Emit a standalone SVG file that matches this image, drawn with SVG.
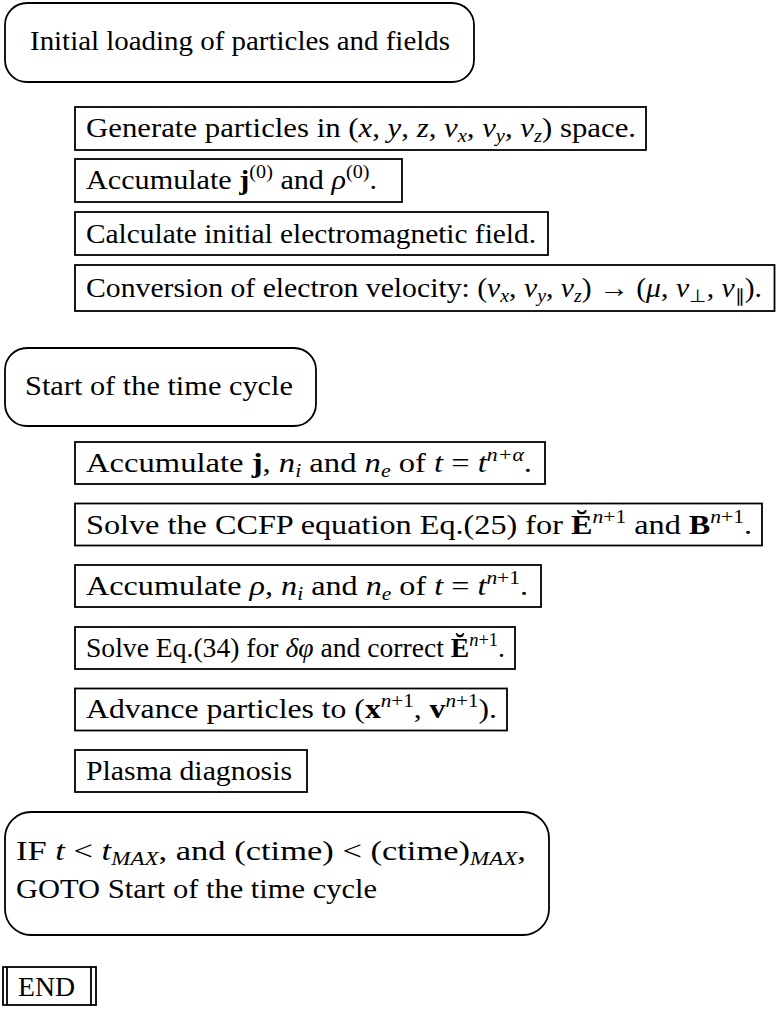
<svg xmlns="http://www.w3.org/2000/svg" width="776" height="1009" viewBox="0 0 776 1009">
<style>
.b{fill:none;stroke:#000;stroke-width:1.8}
.t{font-family:"Liberation Serif","Times New Roman",serif;font-size:27px;fill:#000}
.i{font-style:italic}
.bf{font-weight:bold}
.s{font-size:18px}
</style>
<rect width="776" height="1009" fill="#fff"/>
<g id="n-init">
<rect class="b" x="5" y="3" width="469" height="79" rx="22"/>
<text class="t" x="30" y="50" textLength="420" lengthAdjust="spacingAndGlyphs">Initial loading of particles and fields</text>
</g>
<g id="n-generate">
<rect class="b" x="75" y="107" width="571" height="43"/>
<text class="t" x="86" y="137" textLength="550" lengthAdjust="spacingAndGlyphs">Generate particles in (<tspan class="i">x</tspan>, <tspan class="i">y</tspan>, <tspan class="i">z</tspan>, <tspan class="i">v</tspan><tspan class="i s" dy="5">x</tspan><tspan dy="-5">, </tspan><tspan class="i">v</tspan><tspan class="i s" dy="5">y</tspan><tspan dy="-5">, </tspan><tspan class="i">v</tspan><tspan class="i s" dy="5">z</tspan><tspan dy="-5">) space.</tspan></text>
</g>
<g id="n-acc0">
<rect class="b" x="75" y="159" width="327" height="43"/>
<text class="t" x="86" y="189" textLength="291" lengthAdjust="spacingAndGlyphs">Accumulate <tspan class="bf">j</tspan><tspan class="s" dy="-11">(0)</tspan><tspan dy="11"> and </tspan><tspan class="i">ρ</tspan><tspan class="s" dy="-11">(0)</tspan><tspan dy="11">.</tspan></text>
</g>
<g id="n-calc">
<rect class="b" x="75" y="212" width="473" height="43"/>
<text class="t" x="86" y="243" textLength="450" lengthAdjust="spacingAndGlyphs">Calculate initial electromagnetic field.</text>
</g>
<g id="n-conv">
<rect class="b" x="75" y="265" width="699.5" height="46"/>
<text class="t" x="86" y="297" textLength="676" lengthAdjust="spacingAndGlyphs">Conversion of electron velocity: (<tspan class="i">v</tspan><tspan class="i s" dy="5">x</tspan><tspan dy="-5">, </tspan><tspan class="i">v</tspan><tspan class="i s" dy="5">y</tspan><tspan dy="-5">, </tspan><tspan class="i">v</tspan><tspan class="i s" dy="5">z</tspan><tspan dy="-5">) → (</tspan><tspan class="i">μ</tspan>, <tspan class="i">v</tspan><tspan class="s" dy="5">⊥</tspan><tspan dy="-5">, </tspan><tspan class="i">v</tspan><tspan class="s" dy="5">∥</tspan><tspan dy="-5">).</tspan></text>
</g>
<g id="n-start">
<rect class="b" x="5" y="348" width="311" height="78" rx="22"/>
<text class="t" x="25" y="395" textLength="268" lengthAdjust="spacingAndGlyphs">Start of the time cycle</text>
</g>
<g id="n-accj">
<rect class="b" x="75" y="442" width="470" height="42"/>
<text class="t" x="86" y="472" textLength="446" lengthAdjust="spacingAndGlyphs">Accumulate <tspan class="bf">j</tspan>, <tspan class="i">n</tspan><tspan class="i s" dy="5">i</tspan><tspan dy="-5"> and </tspan><tspan class="i">n</tspan><tspan class="i s" dy="5">e</tspan><tspan dy="-5"> of </tspan><tspan class="i">t</tspan> = <tspan class="i">t</tspan><tspan class="i s" dy="-11">n+α</tspan><tspan dy="11">.</tspan></text>
</g>
<g id="n-ccfp">
<rect class="b" x="75" y="503.5" width="687" height="42"/>
<text class="t" x="86" y="534" textLength="666" lengthAdjust="spacingAndGlyphs">Solve the CCFP equation Eq.(25) for <tspan class="bf">Ĕ</tspan><tspan class="i s" dy="-11">n</tspan><tspan class="s">+1</tspan><tspan dy="11"> and </tspan><tspan class="bf">B</tspan><tspan class="i s" dy="-11">n</tspan><tspan class="s">+1</tspan><tspan dy="11">.</tspan></text>
</g>
<g id="n-accrho">
<rect class="b" x="75" y="565" width="466" height="42"/>
<text class="t" x="86" y="595" textLength="442" lengthAdjust="spacingAndGlyphs">Accumulate <tspan class="i">ρ</tspan>, <tspan class="i">n</tspan><tspan class="i s" dy="5">i</tspan><tspan dy="-5"> and </tspan><tspan class="i">n</tspan><tspan class="i s" dy="5">e</tspan><tspan dy="-5"> of </tspan><tspan class="i">t</tspan> = <tspan class="i">t</tspan><tspan class="i s" dy="-11">n</tspan><tspan class="s">+1</tspan><tspan dy="11">.</tspan></text>
</g>
<g id="n-eq34">
<rect class="b" x="75" y="627" width="440" height="42"/>
<text class="t" x="86" y="657" textLength="419" lengthAdjust="spacingAndGlyphs">Solve Eq.(34) for <tspan class="i">δφ</tspan> and correct <tspan class="bf">Ĕ</tspan><tspan class="i s" dy="-11">n</tspan><tspan class="s">+1</tspan><tspan dy="11">.</tspan></text>
</g>
<g id="n-advance">
<rect class="b" x="75" y="688.5" width="432" height="42"/>
<text class="t" x="86" y="718" textLength="411" lengthAdjust="spacingAndGlyphs">Advance particles to (<tspan class="bf">x</tspan><tspan class="i s" dy="-11">n</tspan><tspan class="s">+1</tspan><tspan dy="11">, </tspan><tspan class="bf">v</tspan><tspan class="i s" dy="-11">n</tspan><tspan class="s">+1</tspan><tspan dy="11">).</tspan></text>
</g>
<g id="n-plasma">
<rect class="b" x="75" y="750" width="232" height="42"/>
<text class="t" x="86" y="780" textLength="206" lengthAdjust="spacingAndGlyphs">Plasma diagnosis</text>
</g>
<g id="n-if">
<rect class="b" x="5" y="812" width="544" height="123" rx="26"/>
<text class="t" x="16" y="860" textLength="510" lengthAdjust="spacingAndGlyphs">IF <tspan class="i">t</tspan> &lt; <tspan class="i">t</tspan><tspan class="i s" dy="5">MAX</tspan><tspan dy="-5">,  and (ctime) &lt; (ctime)</tspan><tspan class="i s" dy="5">MAX</tspan><tspan dy="-5">,</tspan></text>
<text class="t" x="16" y="898" textLength="361" lengthAdjust="spacingAndGlyphs">GOTO Start of the time cycle</text>
</g>
<g id="n-end">
<rect class="b" x="3" y="967" width="93" height="38"/>
<line class="b" x1="7" y1="967" x2="7" y2="1005"/>
<line class="b" x1="91" y1="967" x2="91" y2="1005"/>
<text class="t" x="18" y="996" textLength="57" lengthAdjust="spacingAndGlyphs">END</text>
</g>
<g id="connectors"></g>
</svg>
